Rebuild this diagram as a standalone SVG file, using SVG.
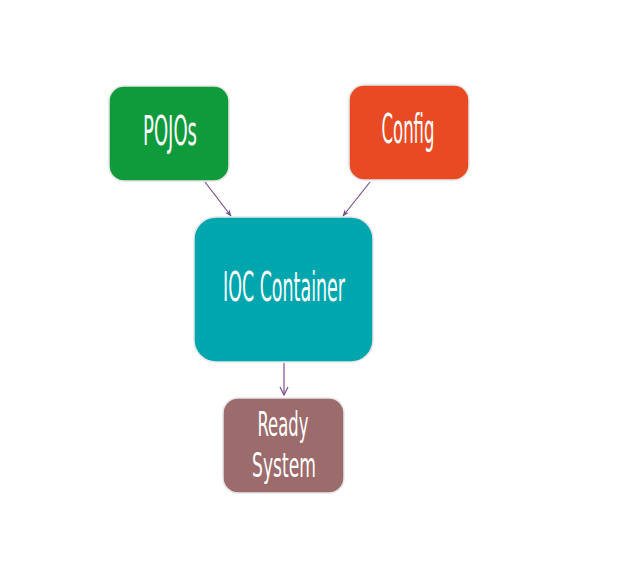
<svg xmlns="http://www.w3.org/2000/svg" width="626" height="579" viewBox="0 0 626 579">
<defs>
<marker id="ah" viewBox="0 0 10 10" refX="9" refY="5" markerWidth="7" markerHeight="7" orient="auto" markerUnits="userSpaceOnUse">
<path d="M0,1 L10,5 L0,9 L3,5 Z" fill="#7b4f8e"/>
</marker>
<marker id="ao" viewBox="0 0 10 10" refX="9" refY="5" markerWidth="10" markerHeight="10" orient="auto" markerUnits="userSpaceOnUse">
<path d="M1,1 L9,5 L1,9" fill="none" stroke="#7b4f8e" stroke-width="1.2"/>
</marker>
</defs>
<style>
.box{stroke:#e6e6e6;stroke-width:1.5}
.lbl{font-family:"DejaVu Sans Condensed","Liberation Sans",sans-serif;font-size:40px;fill:#ffffff;text-anchor:middle}
.sm{font-size:34px}
.con{stroke:#7b4f8e;stroke-width:1.2;fill:none}
</style>
<rect width="626" height="579" fill="#ffffff"/>
<g id="pojos">
<rect class="box" x="109" y="86" width="120" height="95" rx="15" fill="#0f9a3b"/>
<text class="lbl" x="170" y="145" textLength="54" lengthAdjust="spacingAndGlyphs">POJOs</text>
</g>
<g id="config">
<rect class="box" x="349" y="85" width="120" height="95" rx="15" fill="#e84a24"/>
<text class="lbl" x="408" y="143" textLength="53" lengthAdjust="spacingAndGlyphs">Config</text>
</g>
<g id="ioc">
<rect class="box" x="194" y="217" width="179" height="145" rx="22" fill="#00a6ae"/>
<text class="lbl" x="284" y="301" textLength="122" lengthAdjust="spacingAndGlyphs">IOC Container</text>
</g>
<g id="ready">
<rect class="box" x="223" y="398" width="121" height="95" rx="15" fill="#9c6b6b"/>
<text class="lbl sm" x="283" y="436" textLength="51" lengthAdjust="spacingAndGlyphs">Ready</text>
<text class="lbl sm" x="284" y="477" textLength="64" lengthAdjust="spacingAndGlyphs">System</text>
</g>
<g id="connectors">
<line class="con" x1="205" y1="182" x2="231" y2="216" marker-end="url(#ah)"/>
<line class="con" x1="370" y1="182" x2="343" y2="216" marker-end="url(#ah)"/>
<line class="con" x1="284" y1="363" x2="284" y2="395" marker-end="url(#ao)"/>
</g>
</svg>
